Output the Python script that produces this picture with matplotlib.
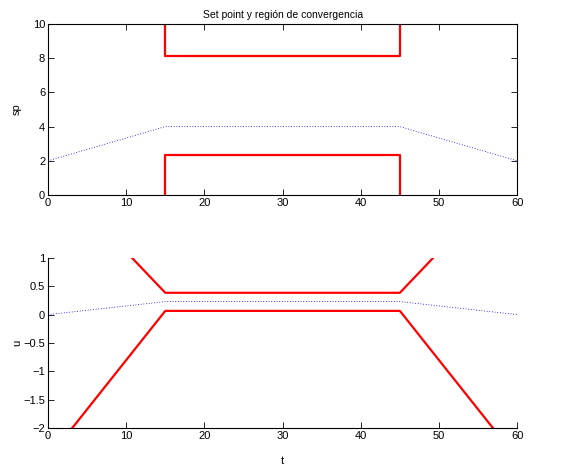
import matplotlib.pyplot as plt

plt.rcParams['font.family'] = ['Liberation Sans', 'DejaVu Sans']
plt.rcParams['font.size'] = 8

# set point y su region de convergencia
t_sp = [0, 15, 45, 60]
sp = [2, 4, 4, 2]
t_sp_hi = [15, 15, 45, 45]
sp_hi = [10, 8.15, 8.15, 10]
t_sp_lo = [15, 15, 45, 45]
sp_lo = [0, 2.36, 2.36, 0]

# entrada u
t_u = [0, 15, 45, 60]
u = [0, 0.23, 0.23, 0]
t_u_hi = [10.75, 15, 45, 49.25]
u_hi = [1, 0.385, 0.385, 1]
t_u_lo = [3.1, 15, 45, 56.9]
u_lo = [-2, 0.066, 0.066, -2]

fig = plt.figure(figsize=(5.68, 4.66), dpi=100)
ax1 = fig.add_axes([0.0845, 0.5815, 0.826, 0.367])
ax2 = fig.add_axes([0.0845, 0.0815, 0.826, 0.365])

ax1.plot(t_sp, sp, color='blue', linestyle=(0, (1, 2.2)), linewidth=0.6)
ax1.plot(t_sp_hi, sp_hi, color='red', linewidth=1.6)
ax1.plot(t_sp_lo, sp_lo, color='red', linewidth=1.6)
ax1.set_xlim(0, 60)
ax1.set_ylim(0, 10)
ax1.set_xticks(range(0, 61, 10))
ax1.set_yticks(range(0, 11, 2))
ax1.set_ylabel('sp')
ax1.yaxis.set_label_coords(-0.055, 0.5)
ax1.set_title('Set point y región de convergencia', fontsize=7.5, pad=4)
ax1.tick_params(direction='in', length=4, width=0.6, top=True, right=True, pad=2)
for s in ax1.spines.values():
    s.set_linewidth(0.8)

ax2.plot(t_u, u, color='blue', linestyle=(0, (1, 2.2)), linewidth=0.6)
ax2.plot(t_u_hi, u_hi, color='red', linewidth=1.6)
ax2.plot(t_u_lo, u_lo, color='red', linewidth=1.6)
ax2.set_xlim(0, 60)
ax2.set_ylim(-2, 1)
ax2.set_xticks(range(0, 61, 10))
ax2.set_yticks([-2, -1.5, -1, -0.5, 0, 0.5, 1])
ax2.set_yticklabels(['\u22122', '\u22121.5', '\u22121', '\u22120.5', '0', '0.5', '1'])
ax2.set_ylabel('u')
ax2.yaxis.set_label_coords(-0.055, 0.5)
ax2.set_xlabel('t', labelpad=11)
ax2.spines['top'].set_visible(False)
ax2.spines['right'].set_visible(False)
ax2.tick_params(direction='in', length=4, width=0.6, pad=2)
for s in ax2.spines.values():
    s.set_linewidth(0.8)

fig.savefig('out.png', dpi=100)
